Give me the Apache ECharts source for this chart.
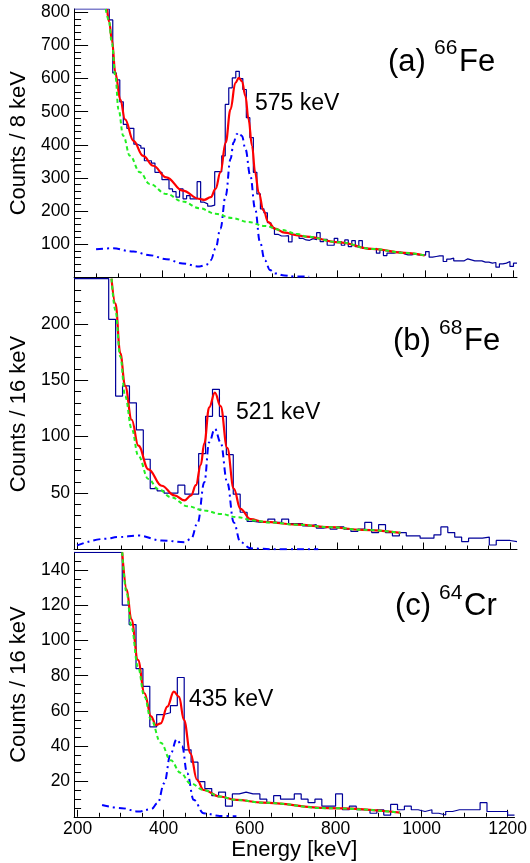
<!DOCTYPE html>
<html><head><meta charset="utf-8">
<script src="https://cdn.jsdelivr.net/npm/echarts@6/dist/echarts.min.js"></script>
<style>html,body{margin:0;padding:0;background:#fff}#c{width:530px;height:863px}</style>
</head><body><div id="c"></div>
<script>
// ---------- Panel (a) 66Fe : 8 keV bins starting at 200 keV ----------
const binStartA = 200, binWidthA = 8;
const countsA = [810,810,810,810,810,810,810,810,810,810,
  777,617,596,530,462,450,450,402,397,390,
  352,352,345,317,317,295,295,267,259,242,
  267,237,247,237,237,289,227,222,215,218,
  319,319,367,522,572,602,622,600,567,482,
  422,317,252,207,195,165,150,130,125,125,
  126,107,130,130,118,113,112,117,114,135,
  108,115,97,97,118,108,97,113,93,111,
  93,111,88,85,85,88,73,83,66,73,
  73,76,76,71,68,68,70,68,68,67,
  78,61,63,65,65,48,55,58,50,50,
  50,56,53,50,50,50,46,46,43,45,
  31,41,43,48,33,43];
const totalFitA = [[275,810],[280,770],[286,717],[294,617],[305,537],[316,477],[335,412],[357,367],[380,337],[410,302],[447,262],[485,237],[496,234],[511,242],[522,267],[533,317],[545,407],[556,507],[567,587],[575,602],[582,592],[590,547],[597,477],[605,397],[612,317],[620,257],[631,202],[642,167],[657,147],[679,135],[709,127],[728,123],[803,106],[878,86],[953,74],[998,66]];
const bgFitA = [[272,810],[279,777],[286,707],[294,607],[301,507],[312,427],[327,367],[350,317],[372,282],[410,252],[447,229],[485,209],[522,192],[560,179],[597,167],[634,155],[672,143],[709,131],[728,123],[803,106],[878,86],[953,74],[998,66]];
const peakFitA = [[250,85],[286,88],[335,78],[372,67],[410,55],[447,42],[485,33],[500,37],[511,52],[522,87],[533,147],[545,247],[556,357],[563,407],[570,432],[575,437],[582,427],[590,387],[601,307],[612,207],[623,107],[634,52],[646,22],[657,12],[679,6],[700,3],[735,2]];

// ---------- Panel (b) 68Fe : 16 keV bins starting at 192 keV ----------
const binStartB = 192, binWidthB = 16;
const countsB = [240,240,240,240,240,
  204,136,145,130,106,80,54,52,50,50,57,49,49,85,118,142,118,84,49,33,25,24,25,
  27,24,27,23,23,21,22,19,20,18,20,18,16,18,24,15,22,15,12,15,12,12,10,10,13,20,15,11,7,10,10,11,4,8,8,7];
const totalFitB = [[278.5,240],[287.6,218],[298.8,174],[310,145],[325.2,115],[340.5,92],[363.9,71],[394.4,56.5],[423.9,48],[447.3,43.5],[462.6,48],[473.7,57],[484.9,75],[493,94],[504.3,126],[517.5,139],[530.7,127],[546,90],[561.2,54],[576.5,36],[599.9,27],[630.4,24.5],[706.7,22],[782.9,19.8],[858.2,17.4],[946.7,14.8]];
const bgFitB = [[278.5,240],[287.6,212],[298.8,171],[310,136],[325.2,107],[340.5,83],[363.9,62.4],[386.3,53.6],[416.8,46.2],[454.8,38.3],[493.5,34.5],[531,31.5],[569.7,28.6],[607.4,25.6],[646,24],[706.7,22],[782.9,19.8],[858.2,17.4],[946.7,14.8]];
const peakFitB = [[199,3.6],[264.2,9.5],[293.7,11],[340.5,12.4],[394.4,8],[447.3,6.5],[462.6,9.5],[477.9,24],[493.1,59.5],[504.3,95],[517.5,107],[530.7,95],[546,59.5],[561.2,24],[576.5,6.5],[599.9,1],[649.8,0.3],[756.4,0.3]];

// ---------- Panel (c) 64Cr : 16 keV bins starting at 192 keV ----------
const binStartC = 192, binWidthC = 16;
const countsC = [150,150,150,150,150,150,150,
  120,109,84,74,51,58,59,63,79,38,31,20,16,12,14,6,13,14,13,13,10,
  8,12,10,10,13,10,8,10,6,6,13,4,6,4,4,2,4,1,7,4,6,4,3,4,2,1,3,4,4,4,4,8,3,3,3,1];
const totalFitC = [[303.9,150],[314.1,129],[325.2,112],[340.5,89],[355.8,70],[371,57],[382.2,52],[393.4,53],[408.7,62.5],[423.9,71],[436.1,68],[447.3,55],[462.6,36],[477.8,21],[493.1,15.2],[530.7,11.5],[569.4,9.6],[630.4,8],[782.9,4.9],[949.8,2.4]];
const bgFitC = [[303.9,150],[314.1,127],[325.2,108],[340.5,85],[355.8,68],[371,55],[393.4,42],[416.8,32],[439.2,25],[462.6,19],[493.1,15.2],[530.7,11.5],[569.4,9.6],[630.4,8],[782.9,4.9],[949.8,2.4]];
const peakFitC = [[257.1,6.7],[302.9,4.9],[340.5,3],[371,4.3],[386.3,7.7],[401.5,19],[416.8,36],[430.5,44],[443.2,40],[454.9,24.7],[470.2,9.6],[493.1,2],[530.7,0.5],[569.4,0.3]];

// ---------- Axes / tick labels ----------
const xMajorTicks = [200,400,600,800,1000,1200];
const xMinorTicks = [250,300,350,450,500,550,650,700,750,850,900,950,1050,1100,1150];
const yMajorA = [100,200,300,400,500,600,700,800];
const yMinorA = [20,40,60,80,120,140,160,180,220,240,260,280,320,340,360,380,420,440,460,480,520,540,560,580,620,640,660,680,720,740,760,780];
const yMajorB = [50,100,150,200];
const yMinorB = [10,20,30,40,60,70,80,90,110,120,130,140,160,170,180,190,210,220,230];
const yMajorC = [20,40,60,80,100,120,140];
const yMinorC = [5,10,15,25,30,35,45,50,55,65,70,75,85,90,95,105,110,115,125,130,135,145];
const yTitles = ['Counts / 8 keV','Counts / 16 keV','Counts / 16 keV'];
const xTitle = 'Energy [keV]';
const peakLabels = ['575 keV','521 keV','435 keV'];
const panelTags = [['(a)','66','Fe'],['(b)','68','Fe'],['(c)','64','Cr']];

function histPoints(start, width, counts){
  const pts = counts.map((c,i)=>[start+i*width, c]);
  pts.push([start+counts.length*width, counts[counts.length-1]]);
  return pts;
}

const FONT = 'Liberation Sans';
const plain = v => String(v);
const grids = [
  {left:68.5, width:448.5, top:9, height:268.4},
  {left:68.5, width:448.5, top:278.7, height:270.8},
  {left:68.5, width:448.5, top:552.3, height:264.5}
];
const xRanges = [[200,1208],[192,1216],[192,1216]];
const yRanges = [[0,810],[0,240],[0,150]];
const yMajors = [yMajorA,yMajorB,yMajorC];
const yMinors = [yMinorA,yMinorB,yMinorC];

const xAxis = [], yAxis = [], series = [];
for (let p=0;p<3;p++){
  const last = p===2;
  xAxis.push({gridIndex:p, type:'value', min:xRanges[p][0], max:xRanges[p][1], position:'bottom',
    axisLine:{show:true, onZero:false, lineStyle:{color:'#000', width:1}},
    axisTick:{show:true, inside:true, length:7, customValues:xMajorTicks, lineStyle:{color:'#000', width:1}},
    axisLabel:{show:last, customValues:xMajorTicks, formatter:plain, margin:3, color:'#000', fontSize:17.5, fontFamily:FONT},
    splitLine:{show:false},
    name: last? xTitle : '', nameLocation:'middle', nameGap:16,
    nameTextStyle:{color:'#000', fontSize:22, fontFamily:FONT}
  });
  xAxis.push({gridIndex:p, type:'value', min:xRanges[p][0], max:xRanges[p][1], position:'bottom',
    axisLine:{show:false, onZero:false},
    axisTick:{show:true, inside:true, length:4, customValues:xMinorTicks, lineStyle:{color:'#000', width:1}},
    axisLabel:{show:false}, splitLine:{show:false}
  });
  yAxis.push({gridIndex:p, type:'value', min:yRanges[p][0], max:yRanges[p][1], position:'left',
    axisLine:{show:true, onZero:false, lineStyle:{color:'#000', width:1}},
    axisTick:{show:true, inside:true, length:14, customValues:yMajors[p], lineStyle:{color:'#000', width:1}},
    axisLabel:{show:true, customValues:yMajors[p], formatter:plain, margin:4, color:'#000', fontSize:17.5, fontFamily:FONT},
    splitLine:{show:false},
    name:yTitles[p], nameLocation:'middle', nameGap:36, nameRotate:90,
    nameTextStyle:{color:'#000', fontSize:22, fontFamily:FONT}
  });
  yAxis.push({gridIndex:p, type:'value', min:yRanges[p][0], max:yRanges[p][1], position:'left',
    axisLine:{show:false, onZero:false},
    axisTick:{show:true, inside:true, length:7, customValues:yMinors[p], lineStyle:{color:'#000', width:1}},
    axisLabel:{show:false}, splitLine:{show:false}
  });
}

const hists = [histPoints(binStartA,binWidthA,countsA), histPoints(binStartB,binWidthB,countsB), histPoints(binStartC,binWidthC,countsC)];
const totals = [totalFitA,totalFitB,totalFitC];
const bgs = [bgFitA,bgFitB,bgFitC];
const peaks = [peakFitA,peakFitB,peakFitC];

for (let p=0;p<3;p++){
  const ax = {xAxisIndex:2*p, yAxisIndex:2*p};
  series.push(Object.assign({type:'line', step:'end', data:hists[p], symbol:'none', clip:true,
    lineStyle:{color:'#000099', width:1.2}, z:2}, ax));
  series.push(Object.assign({type:'line', data:peaks[p], symbol:'none', smooth:0.4, smoothMonotone:'x', clip:true,
    lineStyle:{color:'#0000ff', width:2, type:[7,4,2,4]}, z:3}, ax));
  series.push(Object.assign({type:'line', data:totals[p], symbol:'none', smooth:0.4, smoothMonotone:'x', clip:true,
    lineStyle:{color:'#ff0000', width:2.2}, z:4}, ax));
  series.push(Object.assign({type:'line', data:bgs[p], symbol:'none', smooth:0.4, smoothMonotone:'x', clip:true,
    lineStyle:{color:'#22ee22', width:2, type:[4,3]}, z:5}, ax));
}

function txt(x,y,s,size){
  return {type:'text', x:x, y:y, z:100, style:{text:s, fill:'#000', fontSize:size, fontFamily:FONT, align:'left', verticalAlign:'middle'}};
}
const tagPos = [[388,62,434,48.5,459],[393,341,439,328,464],[395,606,439,593,464]];
const peakPos = [[255,103.5],[236,413],[189,700]];
const graphic = [];
for (let p=0;p<3;p++){
  const t = tagPos[p];
  graphic.push(txt(t[0],t[1],panelTags[p][0],31));
  graphic.push(txt(t[2],t[3],panelTags[p][1],21));
  graphic.push(txt(t[4],t[1],panelTags[p][2],31));
  graphic.push(txt(peakPos[p][0],peakPos[p][1],peakLabels[p],23));
}

const chart = echarts.init(document.getElementById('c'), null, {renderer:'canvas'});
chart.setOption({animation:false, backgroundColor:'#fff', grid:grids, xAxis:xAxis, yAxis:yAxis, series:series, graphic:graphic});
</script></body></html>
